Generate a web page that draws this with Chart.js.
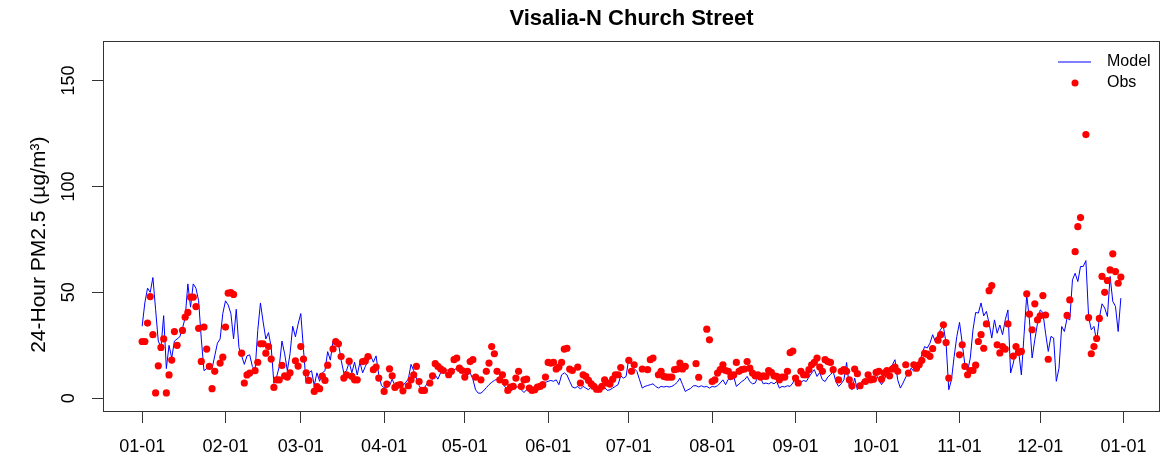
<!DOCTYPE html>
<html>
<head>
<meta charset="utf-8">
<script src="https://cdn.jsdelivr.net/npm/chart.js@4.4.1/dist/chart.umd.min.js"></script>
<style>
  body { margin: 0; background: #fff; }
  #wrap { width: 1164px; height: 461px; }
</style>
</head>
<body>
<div id="wrap"><canvas id="pm25" width="1164" height="461"></canvas></div>
<script>
// daily 24-hour PM2.5, one value per day of the year (day 0 = Jan 1)
const modelValues = [
  34, 45, 52, 50, 57, 42, 27, 24, 39, 14,
  25, 19, 27, 28, 29, 33, 38, 54, 43, 54,
  52, 46, 28, 13, 14, 14, 14, 20, 26, 28,
  40, 46, 44, 40, 28, 42, 24, 20, 16, 20,
  20.5, 15, 13, 32, 45, 36, 28, 31, 24, 7,
  10, 15, 27, 21, 13, 21, 34, 29, 35, 40,
  23, 7, 12, 13, 6, 12, 8, 12, 13, 22,
  18, 27, 26, 26, 18, 12, 13, 17, 12, 17,
  11, 17, 12, 15, 18, 20, 17, 20, 11, 6,
  5, 5, 6, 9, 6, 6, 5, 6, 7.5, 9,
  16, 13, 9.5, 6, 4, 5, 7, 7.5, 9, 11,
  9, 12, 13.5, 13, 13.5, 12, 13.5, 14, 13.5, 13,
  13.5, 11, 12, 9, 4, 2.4, 2.4, 3.5, 5, 6.4,
  7.5, 8.4, 9, 9.5, 7, 5.3, 4, 3.2, 4.3, 5.3,
  5.3, 4, 2.7, 4, 3.2, 4, 4.8, 5.6, 6.4, 7.2,
  7.5, 8, 8.4, 8, 8.7, 6.4, 11, 12, 11, 8,
  5.3, 4.8, 5.6, 4.3, 5.6, 4.8, 4, 5.3, 4.8, 4,
  3.5, 5, 5, 3.7, 4, 4.8, 5.6, 6.4, 10.6, 9.5,
  10.3, 19, 16, 14, 12.7, 8.7, 4.8, 5.6, 6, 6.4,
  6.8, 5.6, 4.8, 5.6, 5.3, 5.6, 5.3, 5.6, 6.4, 7.5,
  9.5, 6.4, 3.2, 4, 4.6, 5.9, 5.9, 5.3, 5.9, 5.3,
  5.6, 4.8, 5.6, 5.3, 5.9, 7.2, 8.7, 6.4, 9, 8.7,
  10.3, 5.6, 6.7, 7.9, 8.7, 10.3, 7.9, 6.8, 7.2, 10,
  9.5, 6.8, 7.2, 6.8, 7.5, 6.8, 7.9, 4.8, 5.6, 5.3,
  5.9, 5.6, 7.2, 10, 8.7, 7.5, 8.4, 7.9, 10, 11.9,
  13.5, 10.3, 12.2, 8.7, 7.9, 10, 11.1, 12.7, 7.9, 5.6,
  6.8, 8.7, 16.9, 5.6, 4, 9.5, 4, 6.4, 8.7, 7.2,
  9.5, 8.7, 9.5, 11.1, 8.7, 6.4, 8.7, 11.9, 14.2, 15.8,
  18.2, 8.7, 4.8, 7.2, 10, 11.9, 14.2, 12.7, 14.2, 17.3,
  20.5, 24.4, 23.7, 26, 30, 26.8, 30, 32.6, 33.9, 26,
  4, 8.7, 19.7, 29.2, 35.8, 26, 15.8, 12.7, 19, 32.3,
  40.5, 40.2, 45, 38.9, 41, 35.4, 28.4, 37, 30.7, 34.6,
  30, 37, 41.7, 11.9, 16.6, 22.9, 22, 11, 30, 48.8,
  37, 19, 27.6, 35.4, 41.7, 40.5, 30.7, 22.1, 29.2, 28.4,
  8, 14.2, 33.9, 31.5, 37.8, 37, 55.9, 59, 55.1, 62.2,
  62.2, 65, 38.6, 32.3, 33.9, 26.8, 37.8, 44.6, 42.6, 38.6,
  57.5, 45.7, 43.4, 31.5, 47.3
];

// observed values, null where the monitor has no sample
const obsValues = [
  26.8, 26.8, 35.5, 48, 30, 2.5, 15.3, 24, 28, 2.5,
  11, 18, 31.5, 25, null, 32, 38.3, 40.5, 47.7, 47.7,
  43.3, 33, 17.4, 33.6, 23.2, 15, 4.5, 12.7, null, 16.6,
  19.4, 33.6, 49.6, 49.9, 49, null, null, 21.3, 7.2, 11,
  11.9, null, 13, 17, 25.7, 25.7, 21.3, 24.4, 18.5, 5.1,
  8.7, 8.7, 15.5, 10.6, 10, 12, null, 17.7, 15.2, 24.4,
  18.5, 12, 8.4, null, 3.2, 5.5, 4.5, 10.4, 8.4, 15.6,
  null, 23.3, 26.8, 25.7, 19.7, 9.5, 11, 17.5, 10.3, 8.7,
  8.7, null, 17.3, 17.6, 19.7, null, 13.5, 14.7, 9.5, null,
  3.2, 6.7, 13.9, 10.6, 5.1, 6.1, 6.4, 3.5, null, 5.9,
  8.7, 11.1, 15, 7.9, 3.7, 3.7, null, 7.2, 10.6, 16.3,
  15, 13.9, 13.1, null, 11.1, 12.7, 18.2, 19, 14.2, 13.1,
  10, 12.7, 17.3, 18.2, 10, null, 8.7, null, 12.7, 16.6,
  24.4, 21, 12.7, 8.7, 11.1, 7.5, 3.7, 5.3, 5.6, 9.5,
  12.7, 5.6, 8.7, 9, 4.8, 3.7, 4, 5.3, 5.6, 6.4,
  10, 16.9, 16.6, 16.9, 13.8, 14.7, 16.9, 23.2, 23.6, 13.8,
  13.1, null, 14.7, 7.2, 11.1, 10.3, 8.4, 6.8, 5.6, 4.3,
  4.3, 5.6, 8.7, 7.2, 6.7, 9, 11.1, 11.1, 14.5, null,
  null, 17.9, 12.7, 15.8, null, null, 13.8, null, 13.5, 18.2,
  19, null, 11.1, 12.7, 10.3, 10, 10, 10, 13.5, 13.8,
  16.6, 13.8, 15, null, null, null, 16.3, 9.9, null, null,
  32.6, 27.6, 7.9, 8.7, 11.9, 13.5, 15.8, 13.1, 12.7, 10.3,
  11, 16.9, 12.7, 13.5, 13.8, 17.3, 14.2, 11.9, 10.6, 11.1,
  10, 10.6, 10.3, 13.1, 12.2, 10.6, 10.3, 8.7, 10, 10,
  12.7, 21.5, 22.3, 9.5, 7.2, 12.7, 11.1, 11.1, 13.5, 15.8,
  16.9, 19, 14.7, 12.7, 18.2, 17.3, 16.9, 13.5, null, 8.7,
  12.7, 13.5, 12.7, 8.7, 5.9, 13.8, 11.6, 5.9, null, 7.9,
  11.1, 8.7, 9, 12.2, 12.7, 9, 11.9, 13.1, 10.6, 13.8,
  14.7, 12.7, null, null, 15.8, 11.9, null, 15.8, 14.2, 15.8,
  17.9, 21.2, 20.8, 19.8, 23.4, null, 27.4, 30, 34.7, 26.3,
  9.5, null, null, null, 20.5, 25.2, 15, 11.1, 13.1, 13.1,
  15.6, 26.8, 30, 23.6, 35.1, 50.8, 53.2, null, 25.2, 21.4,
  24.4, 23.2, 35.1, null, 19.9, 24.4, 21.7, 22.1, null, 49.3,
  39.7, 32.3, 44.6, 37, 38.9, 48.5, 39.3, 18.4, null, null,
  null, null, null, null, 39.1, 46.4, null, 69.2, 81, 85.3,
  null, 124.5, 38.1, 21, 24.4, 28.2, 37.7, 57.5, 50, 55.6,
  60.6, 68.2, 59.8, 54.3, 57.2
];

const monthStarts = [0, 31, 59, 90, 120, 151, 181, 212, 243, 273, 304, 334, 365];
const monthLabels = ['01-01', '02-01', '03-01', '04-01', '05-01', '06-01', '07-01',
  '08-01', '09-01', '10-01', '11-01', '12-01', '01-01'];
const yTicks = [0, 50, 100, 150];
const yTitle = '24-Hour PM2.5 (µg/m³)';

const fontFamily = '"Liberation Sans", Arial, Helvetica, sans-serif';
Chart.defaults.font.family = fontFamily;
Chart.defaults.color = '#000';

// box around the plotting region
const plotFrame = {
  id: 'plotFrame',
  afterDatasetsDraw(chart) {
    const { ctx, chartArea: a } = chart;
    ctx.save();
    ctx.strokeStyle = '#333';
    ctx.lineWidth = 1;
    ctx.strokeRect(Math.round(a.left) + 0.5, Math.round(a.top) + 0.5,
      Math.round(a.right - a.left) - 1, Math.round(a.bottom - a.top) - 1);
    ctx.restore();
  }
};

// rotated y title, sitting a little below the middle of the plot
const sideTitle = {
  id: 'sideTitle',
  afterDraw(chart) {
    const { ctx, chartArea: a } = chart;
    ctx.save();
    ctx.translate(39, (a.top + a.bottom) / 2 + 18);
    ctx.rotate(-Math.PI / 2);
    ctx.font = '21px ' + fontFamily;
    ctx.fillStyle = '#000';
    ctx.textAlign = 'center';
    ctx.textBaseline = 'middle';
    ctx.fillText(yTitle, 0, 0);
    ctx.restore();
  }
};

// borderless legend in the top right corner
const cornerLegend = {
  id: 'cornerLegend',
  afterDraw(chart) {
    const { ctx, chartArea: a } = chart;
    const model = chart.data.datasets[0];
    const obs = chart.data.datasets[1];
    const right = a.right;
    ctx.save();
    ctx.font = '16px ' + fontFamily;
    ctx.fillStyle = '#000';
    ctx.textBaseline = 'middle';
    ctx.textAlign = 'left';

    ctx.strokeStyle = model.borderColor;
    ctx.lineWidth = 1;
    ctx.beginPath();
    ctx.moveTo(right - 102, 62);
    ctx.lineTo(right - 69, 62);
    ctx.stroke();
    ctx.fillText(model.label, right - 53, 62);

    ctx.fillStyle = obs.pointBackgroundColor;
    ctx.beginPath();
    ctx.arc(right - 85, 83, 3.5, 0, Math.PI * 2);
    ctx.fill();
    ctx.fillStyle = '#000';
    ctx.fillText(obs.label, right - 53, 83);
    ctx.restore();
  }
};

new Chart(document.getElementById('pm25'), {
  type: 'line',
  data: {
    datasets: [
      {
        label: 'Model',
        data: modelValues.map((v, i) => ({ x: i, y: v })),
        borderColor: '#0000ff',
        borderWidth: 1,
        pointRadius: 0,
        tension: 0,
        order: 2
      },
      {
        label: 'Obs',
        data: obsValues.map((v, i) => ({ x: i, y: v })),
        showLine: false,
        borderColor: '#ff0000',
        pointBackgroundColor: '#ff0000',
        pointBorderWidth: 0,
        pointRadius: 3.6,
        order: 1
      }
    ]
  },
  options: {
    responsive: false,
    animation: false,
    devicePixelRatio: 1,
    events: [],
    layout: { padding: { left: 0, right: 2, top: 0, bottom: 0 } },
    plugins: {
      legend: { display: false },
      tooltip: { enabled: false },
      title: {
        display: true,
        text: 'Visalia-N Church Street',
        fullSize: false,
        color: '#000',
        font: { size: 22, weight: 'bold' },
        padding: { top: 6, bottom: 9 }
      }
    },
    scales: {
      x: {
        type: 'linear',
        min: -14.56,
        max: 378.56,
        afterBuildTicks: (scale) => {
          scale.ticks = monthStarts.map(v => ({ value: v }));
        },
        afterFit: (scale) => { scale.height = 49; },
        ticks: {
          autoSkip: false,
          maxRotation: 0,
          padding: 13,
          font: { size: 18 },
          callback: (value) => {
            const i = monthStarts.indexOf(value);
            return i >= 0 ? monthLabels[i] : '';
          }
        },
        grid: { drawOnChartArea: false, drawTicks: true, tickLength: 11, color: '#333' },
        border: { display: false }
      },
      y: {
        type: 'linear',
        min: -6.5,
        max: 168.5,
        afterBuildTicks: (scale) => {
          scale.ticks = yTicks.map(v => ({ value: v }));
        },
        afterFit: (scale) => { scale.width = 103; },
        ticks: {
          minRotation: 90,
          maxRotation: 90,
          crossAlign: 'center',
          padding: 8,
          font: { size: 18 }
        },
        grid: { drawOnChartArea: false, drawTicks: true, tickLength: 11, color: '#333' },
        border: { display: false }
      }
    }
  },
  plugins: [plotFrame, sideTitle, cornerLegend]
});
</script>
</body>
</html>
